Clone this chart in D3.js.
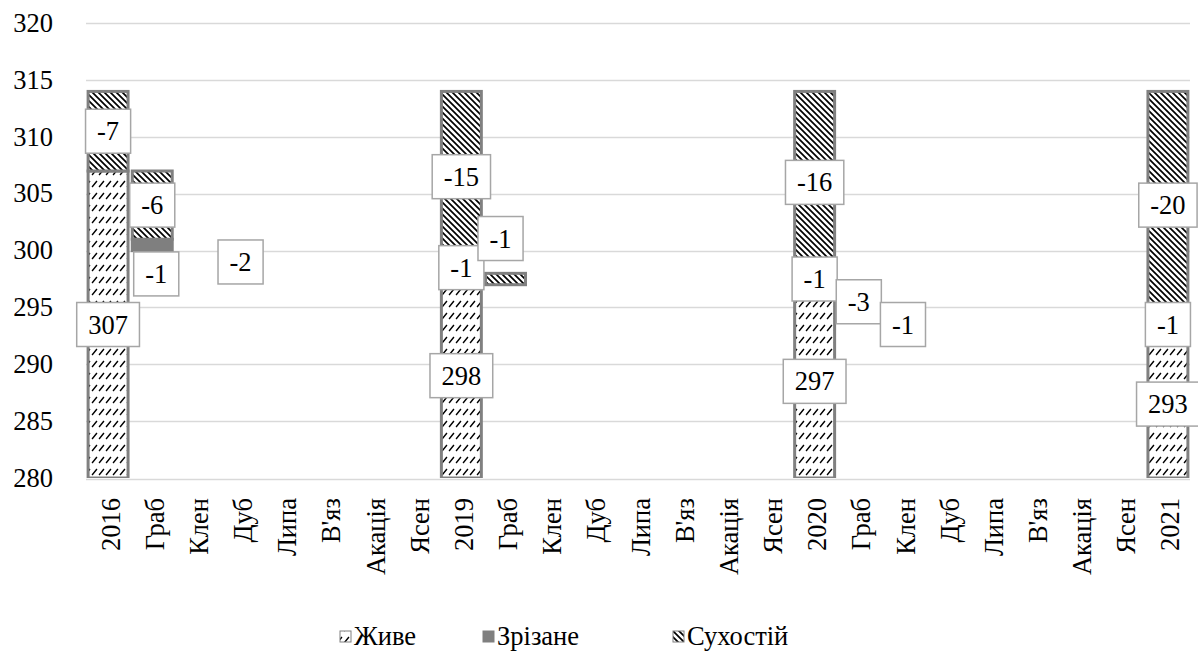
<!DOCTYPE html>
<html>
<head>
<meta charset="utf-8">
<script src="https://cdn.jsdelivr.net/npm/d3@7"></script>
</head>
<body style="margin:0;background:#fff">
<svg id="chart" width="1198" height="657"></svg>
<script>
// ---------- data ----------
const categories = ['2016','Граб','Клен','Дуб','Липа',"В'яз",'Акація','Ясен',
                    '2019','Граб','Клен','Дуб','Липа',"В'яз",'Акація','Ясен',
                    '2020','Граб','Клен','Дуб','Липа',"В'яз",'Акація','Ясен','2021'];
const alive = [307,0,0,0,0,0,0,0, 298,0,0,0,0,0,0,0, 297,0,0,0,0,0,0,0, 293];
const cut   = [0,1,0,0,0,0,0,0,   1,0,0,0,0,0,0,0,   1,0,0,0,0,0,0,0,   1];
const dead  = [7,6,0,2,0,0,0,0,   15,1,0,0,0,0,0,0,  16,3,1,0,0,0,0,0,  20];
const yTicks = [280,285,290,295,300,305,310,315,320];
const seriesNames = ['Живе','Зрізане','Сухостій'];

(function () {
const svg = d3.select('#chart');
const pL = 86, pR = 1190, pT = 23.2, pB = 478;
const FONT = 'Liberation Serif';
const FS = 26.5;

const x = d3.scaleBand().domain(d3.range(categories.length)).range([pL, pR]).padding(0);
const y = d3.scaleLinear().domain([280, 320]).range([pB, pT]);
const barW = x.bandwidth() - 4.2;

// patterns
const defs = svg.append('defs');
const pAlive = defs.append('pattern').attr('id','pAlive').attr('patternUnits','userSpaceOnUse')
  .attr('width',7).attr('height',12);
pAlive.append('rect').attr('width',7).attr('height',12).attr('fill','#fff');
pAlive.append('path').attr('d','M1.5,6.5 L5.5,1.5').attr('stroke','#000').attr('stroke-width',1.4).attr('stroke-linecap','square');

const pDead = defs.append('pattern').attr('id','pDead').attr('patternUnits','userSpaceOnUse')
  .attr('width',6).attr('height',6);
pDead.append('rect').attr('width',6).attr('height',6).attr('fill','#fff');
pDead.append('path').attr('d','M0,0 L6,6 M-3,3 L3,9 M3,-3 L9,3').attr('stroke','#000').attr('stroke-width',1.7);

const fills = ['url(#pAlive)', '#7f7f7f', 'url(#pDead)'];
const barStroke = '#808080';

defs.append('clipPath').attr('id','plotClip').append('rect')
  .attr('x', 0).attr('y', pT - 10).attr('width', 1198).attr('height', pB - pT + 10);

function txt(sel) {
  return sel.attr('font-family', FONT).attr('font-size', FS).attr('fill', '#000');
}

// gridlines (drawn from the y scale)
svg.append('g').selectAll('line').data(yTicks.filter(t => t > 280)).join('line')
  .attr('x1', pL).attr('x2', pR)
  .attr('y1', d => Math.round(y(d)) + 0.5).attr('y2', d => Math.round(y(d)) + 0.5)
  .attr('stroke', '#d9d9d9').attr('stroke-width', 1.3);

// y labels
txt(svg.append('g').selectAll('text').data(yTicks).join('text'))
  .attr('x', 53).attr('y', d => y(d))
  .attr('dy', '0.33em').attr('text-anchor', 'end')
  .text(d => d);

// x labels
txt(svg.append('g').selectAll('text').data(d3.range(categories.length)).join('text'))
  .attr('transform', i => `translate(${x(i) + x.bandwidth() / 2 + 2},${pB + 20}) rotate(-90)`)
  .attr('dy', '0.36em').attr('text-anchor', 'end')
  .text(i => categories[i]);

// ---------- stacked waterfall segments ----------
const segs = [];
let level = 0;
categories.forEach((c, i) => {
  let base;
  if (alive[i] > 0) { base = 0; level = alive[i]; }
  else { level -= cut[i] + dead[i]; base = level; }
  const vals = [alive[i], cut[i], dead[i]];
  let y0 = base;
  vals.forEach((v, s) => {
    if (v > 0) segs.push({i, s, y0, y1: y0 + v, v});
    y0 += v;
  });
});

svg.append('g').attr('clip-path','url(#plotClip)')
  .selectAll('rect').data(segs).join('rect')
  .attr('x', d => x(d.i) + (x.bandwidth() - barW) / 2)
  .attr('width', barW)
  .attr('y', d => y(d.y1))
  .attr('height', d => y(Math.max(d.y0, 280)) - y(d.y1))
  .attr('fill', d => fills[d.s])
  .attr('stroke', barStroke).attr('stroke-width', 3);

// horizontal axis line
svg.append('line').attr('x1', pL).attr('x2', pR).attr('y1', y(280) + 1.5).attr('y2', y(280) + 1.5)
  .attr('stroke', '#d9d9d9').attr('stroke-width', 1.3);

// ---------- data labels ----------
const nudge = { '1-1': [4, 29], '9-2': [-5, -40.5] };
const labG = svg.append('g');
[0, 1, 2].forEach(s => {
  segs.filter(d => d.s === s).forEach(d => {
    const nk = nudge[d.i + '-' + d.s] || [0, 0];
    const cx = x(d.i) + x.bandwidth() / 2 + nk[0];
    const cy = y((Math.max(d.y0, 280) + d.y1) / 2) + nk[1];
    const label = s === 0 ? String(d.v) : '-' + d.v;
    const g = labG.append('g');
    const rect = g.append('rect');
    const t = txt(g.append('text'))
      .attr('x', cx).attr('y', cy)
      .attr('dy', '0.34em').attr('text-anchor', 'middle').text(label);
    const w = t.node().getComputedTextLength() + 23;
    const h = 44;
    rect.attr('x', cx - w / 2).attr('y', cy - h / 2).attr('width', w).attr('height', h)
      .attr('fill', '#fff').attr('stroke', '#a6a6a6').attr('stroke-width', 1.5);
  });
});

// ---------- legend ----------
const legX = [340, 483, 673];
const leg = svg.append('g');
seriesNames.forEach((n, k) => {
  leg.append('rect').attr('x', legX[k]).attr('y', 631).attr('width', 11).attr('height', 11)
    .attr('fill', fills[k]).attr('stroke', '#808080').attr('stroke-width', 1);
  txt(leg.append('text'))
    .attr('x', legX[k] + 14).attr('y', 645)
    .text(n);
});
})();
</script>
</body>
</html>
